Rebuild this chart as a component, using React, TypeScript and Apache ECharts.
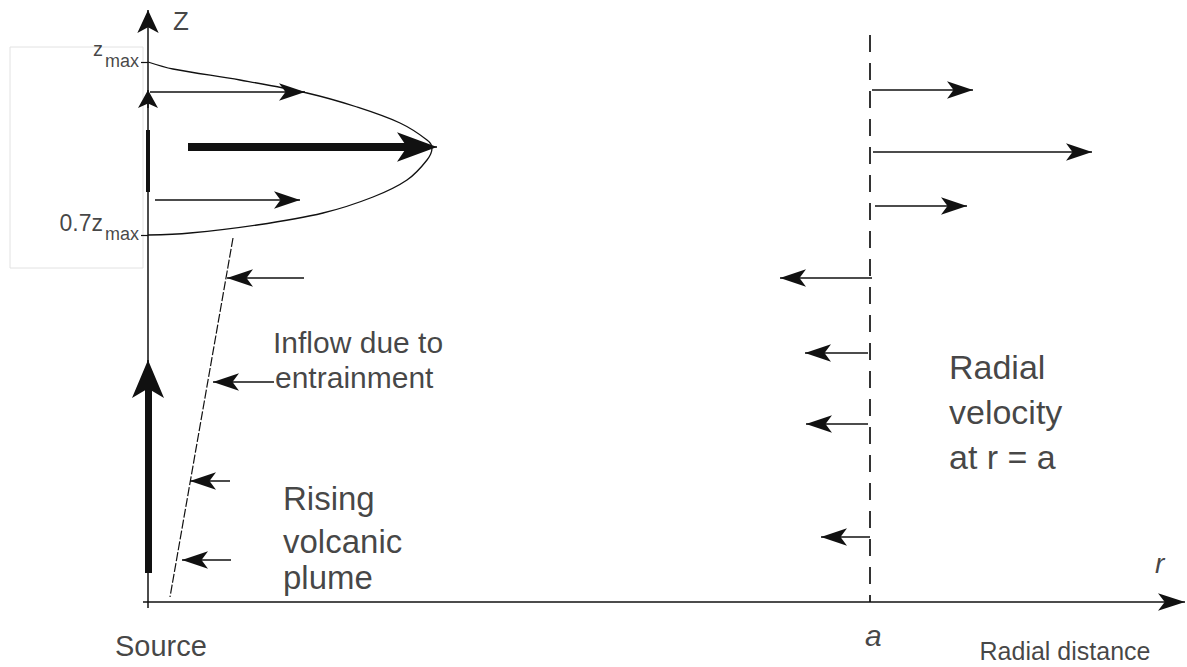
import React, { useEffect, useRef } from "react";
import * as echarts from "echarts";

// Sketch coordinates: r = radial distance from the source, z = height (sketch units)
const R_AXIS = [-5, 1037];
const Z_AXIS = [-6, 592];

// Velocity profile at the top of the plume (between 0.7 zmax and zmax)
const profileR = [0, 25, 92, 159, 209, 252, 279, 284, 279, 259, 225, 175, 109, 42, 0];
const profileZ = [540, 533, 522, 509, 495, 479, 462, 454, 442, 422, 405, 389, 377, 369, 367];

// Arrows inside the profile: [rStart, rEnd, z]
const profileArrows = [
  [2, 157, 510],
  [7, 152, 402],
];
const thickProfileArrow = [40, 289, 455];

// Inflow due to entrainment: [rStart, rEnd, z]
const inflowArrows = [
  [156, 79, 324],
  [126, 65, 220],
  [82, 42, 121],
  [83, 34, 42],
];

// Plume edge (entrainment boundary)
const plumeEdgeR = [85, 22];
const plumeEdgeZ = [364, 5];

// Radial velocity at r = a
const aR = 722;
const aTop = 567;
const outflowArrows = [
  [724, 825, 512],
  [725, 944, 450],
  [727, 819, 396],
];
const inflowAtA = [
  [724, 632, 324],
  [720, 657, 249],
  [720, 658, 178],
  [722, 673, 65],
];

// Marks on the z axis
const zMax = 540;
const z07 = 367;
const zAxisThickSeg = [410, 472];
const plumeRiseArrow = [29, 242];
const zAxisSecondHead = [494, 512];

// Light frame behind the z labels
const boxR = [-138, -5, -5, -138, -138];
const boxZ = [555, 555, 334, 334, 555];

// Annotations
const labelTexts = ["Z", "z", "max", "0.7z", "max", "Inflow due to", "entrainment", "Rising", "volcanic", "plume", "Radial", "velocity", "at r = a", "Source", "a", "r", "Radial distance"];
const labelR = [25, -45, -43, -45, -43, 125, 127, 135, 135, 135, 801, 801, 801, -33, 717, 1007, 917];
const labelZ = [581.5, 553, 540.6, 379, 367.6, 259.6, 224.6, 103.5, 61, 25, 235.2, 190.2, 145.2, -43.8, -33, 38.2, -49];

const FONT = "'Liberation Sans', Arial, Helvetica, sans-serif";
const INK = "#111";
const TEXT = "#141414";

function buildOption() {
  const labelSizes = [26, 20, 18, 23, 18, 30, 30, 33, 33, 33, 34, 34, 34, 29, 30, 28, 25];
  const labelAlign = ["left", "right", "left", "right", "left", "left", "left", "left", "left", "left", "left", "left", "left", "left", "left", "left", "center"];
  const italic = [false, false, false, false, false, false, false, false, false, false, false, false, false, false, true, true, false];

  const hArrow = (a: number[]) => ({ coords: [[a[0], a[2]], [a[1], a[2]]] });

  const thinArrowData = [
    ...profileArrows.map(hArrow),
    ...inflowArrows.map(hArrow),
    ...outflowArrows.map(hArrow),
    ...inflowAtA.map(hArrow),
  ];

  const tp = thickProfileArrow;
  const tpShaftEnd = tp[1] - 20;
  const pr = plumeRiseArrow;
  const prShaftEnd = pr[1] - 18;

  return {
    animation: false,
    backgroundColor: "#ffffff",
    grid: { left: 0, right: 0, top: 0, bottom: 0 },
    xAxis: { type: "value", min: -148, max: 1039, show: false },
    yAxis: { type: "value", min: -65, max: 602, show: false },
    series: [
      {
        type: "line",
        name: "frame",
        data: boxR.map((r, i) => [r, boxZ[i]]),
        symbol: "none",
        silent: true,
        lineStyle: { color: "#e2e2e2", width: 1 },
        z: 1,
      },
      {
        type: "lines",
        name: "axes",
        coordinateSystem: "cartesian2d",
        silent: true,
        symbol: ["none", "arrow"],
        symbolSize: [0, [13, 27]],
        lineStyle: { color: INK, width: 1.5, opacity: 1, curveness: 0 },
        data: [
          { coords: [[R_AXIS[0], 0], [R_AXIS[1], 0]], symbolSize: [0, [13, 27]] },
          { coords: [[0, Z_AXIS[0]], [0, Z_AXIS[1]]], symbolSize: [0, [16, 23]] },
          { coords: [[0, zAxisSecondHead[0]], [0, zAxisSecondHead[1]]], symbolSize: [0, [15, 18]] },
          { coords: [[0, prShaftEnd], [0, pr[1]]], symbolSize: [0, [24, 38]] },
          { coords: [[tpShaftEnd, tp[2]], [tp[1], tp[2]]], symbolSize: [0, [22, 40]] },
        ],
        z: 3,
      },
      {
        type: "lines",
        name: "thick shafts",
        coordinateSystem: "cartesian2d",
        silent: true,
        symbol: ["none", "none"],
        lineStyle: { color: INK, width: 7, opacity: 1 },
        data: [
          { coords: [[0, pr[0]], [0, prShaftEnd]], lineStyle: { width: 7 } },
          { coords: [[tp[0], tp[2]], [tpShaftEnd, tp[2]]], lineStyle: { width: 8 } },
          { coords: [[0, zAxisThickSeg[0]], [0, zAxisThickSeg[1]]], lineStyle: { width: 4 } },
        ],
        z: 3,
      },
      {
        type: "lines",
        name: "ticks",
        coordinateSystem: "cartesian2d",
        silent: true,
        symbol: ["none", "none"],
        lineStyle: { color: INK, width: 1.2, opacity: 1 },
        data: [
          { coords: [[-7, zMax], [0, zMax]] },
          { coords: [[-7, z07], [0, z07]] },
        ],
        z: 3,
      },
      {
        type: "lines",
        name: "velocity arrows",
        coordinateSystem: "cartesian2d",
        silent: true,
        symbol: ["none", "arrow"],
        symbolSize: [0, [13, 26]],
        lineStyle: { color: INK, width: 1.5, opacity: 1 },
        data: thinArrowData,
        z: 3,
      },
      {
        type: "line",
        name: "profile",
        data: profileR.map((r, i) => [r, profileZ[i]]),
        smooth: 0.35,
        symbol: "none",
        silent: true,
        lineStyle: { color: INK, width: 1.3 },
        z: 2,
      },
      {
        type: "line",
        name: "plume edge",
        data: plumeEdgeR.map((r, i) => [r, plumeEdgeZ[i]]),
        symbol: "none",
        silent: true,
        lineStyle: { color: INK, width: 1.2, type: [9, 2] },
        z: 2,
      },
      {
        type: "line",
        name: "r = a",
        data: [[aR, aTop], [aR, 0]],
        symbol: "none",
        silent: true,
        lineStyle: { color: "#333", width: 2, type: [17, 11] },
        z: 2,
      },
      {
        type: "scatter",
        name: "labels",
        silent: true,
        symbolSize: 0,
        itemStyle: { color: "rgba(0,0,0,0)" },
        data: labelTexts.map((t, i) => ({
          value: [labelR[i], labelZ[i]],
          label: {
            show: true,
            formatter: t,
            position: "inside",
            align: labelAlign[i],
            verticalAlign: "middle",
            fontSize: labelSizes[i],
            lineHeight: Math.round(labelSizes[i] * 0.75),
            fontStyle: italic[i] ? "italic" : "normal",
            fontFamily: FONT,
            color: TEXT,
          },
        })),
        z: 5,
      },
    ],
  };
}

export default function App() {
  const ref = useRef<HTMLDivElement>(null);
  useEffect(() => {
    if (!ref.current) return;
    const chart = echarts.init(ref.current, null, { renderer: "svg" });
    chart.setOption(buildOption() as any);
    return () => chart.dispose();
  }, []);
  return (
    <div
      ref={ref}
      style={{ position: "fixed", left: 0, top: 0, width: 1187, height: 667, background: "#fff" }}
    />
  );
}
